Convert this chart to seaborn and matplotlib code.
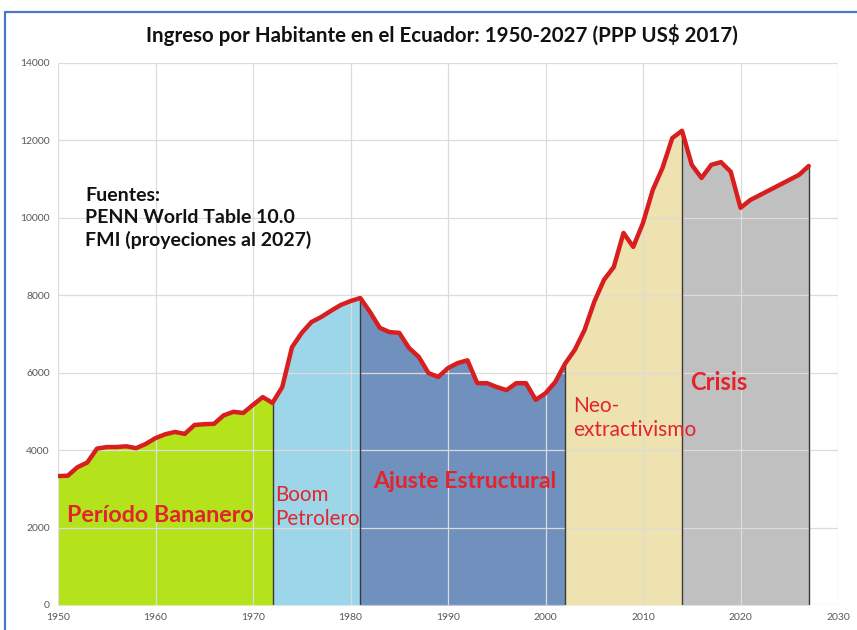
import numpy as np
import pandas as pd
import matplotlib
matplotlib.use("Agg")
import matplotlib.pyplot as plt
from matplotlib.lines import Line2D
import seaborn as sns

# Ingreso por habitante (PPP US$ 2017), 1950-2027
years = list(range(1950, 2028))
income = [
    3330, 3340, 3560, 3680, 4040, 4080, 4080, 4100, 4050, 4160,
    4310, 4410, 4470, 4420, 4650, 4670, 4680, 4900, 4990, 4960,
    5170, 5370, 5220, 5630, 6660, 7030, 7310, 7440, 7600, 7750,
    7850, 7930, 7570, 7160, 7050, 7030, 6640, 6410, 5990, 5890,
    6120, 6250, 6320, 5730, 5730, 5630, 5550, 5730, 5730, 5300,
    5470, 5760, 6230, 6590, 7100, 7830, 8400, 8730, 9610, 9250,
    9870, 10720, 11290, 12060, 12250, 11370, 11030, 11370, 11440, 11190,
    10260, 10460, 10590, 10720, 10850, 10980, 11110, 11340,
]

# Periodos historicos
period_names = ["Período Bananero", "Boom\nPetrolero", "Ajuste Estructural",
                "Neo-\nextractivismo", "Crisis"]
period_start = [1950, 1972, 1981, 2002, 2014]
period_end = [1972, 1981, 2002, 2014, 2027]
period_colors = ["#b4e31c", "#9cd6e8", "#7090be", "#eee2b0", "#c0c0c0"]

x_ticks = list(range(1950, 2031, 10))
y_ticks = list(range(0, 14001, 2000))

title = "Ingreso por Habitante en el Ecuador: 1950-2027 (PPP US$ 2017)"
sources = "Fuentes:\nPENN World Table 10.0\nFMI (proyeciones al 2027)"

df = pd.DataFrame({"year": years, "income": income})

sns.set_theme(style="white")
plt.rcParams["font.family"] = ["Lato", "DejaVu Sans"]

W, H = 857, 630
fig = plt.figure(figsize=(W / 100, H / 100), dpi=100)
fig.patch.set_facecolor("white")
ax = fig.add_axes([58 / W, 1 - 605 / H, (838 - 58) / W, (605 - 63) / H])
ax.set_facecolor("white")

# shaded areas for each period
for start, end, color in zip(period_start, period_end, period_colors):
    seg = df[(df["year"] >= start) & (df["year"] <= end)]
    ax.fill_between(seg["year"], 0, seg["income"], color=color, lw=0, zorder=1)

# dividers between periods
for end in period_end:
    val = df.loc[df["year"] == end, "income"].iloc[0]
    ax.vlines(end, 0, val, color="#3a3a3a", lw=1.0, zorder=3)

# income line
sns.lineplot(data=df, x="year", y="income", ax=ax, color="#d81e1e", lw=3.2,
             zorder=4, solid_joinstyle="round", solid_capstyle="round")

ax.set_xlim(1950, 2030)
ax.set_ylim(0, 14000)
ax.set_xticks(x_ticks)
ax.set_yticks(y_ticks)
ax.set_xticklabels([str(t) for t in x_ticks])
ax.set_yticklabels([str(t) for t in y_ticks])
ax.tick_params(axis="both", labelsize=7.5, colors="#595959", length=0, pad=6)
ax.set_xlabel("")
ax.set_ylabel("")
ax.grid(True, color="#dcdcdc", lw=0.9, zorder=2)
ax.set_axisbelow(False)
for line in ax.get_xgridlines() + ax.get_ygridlines():
    line.set_zorder(2)
for s in ax.spines.values():
    s.set_visible(False)

# period labels
red = "#e3242b"
ax.text(1950.9, 2300, period_names[0], color=red, fontsize=16.8, fontweight="bold",
        ha="left", va="center", zorder=5)
ax.text(1972.25, 2530, period_names[1], color=red, fontsize=14.8,
        ha="left", va="center", linespacing=1.3, zorder=5)
ax.text(1982.3, 3200, period_names[2], color=red, fontsize=16.6, fontweight="bold",
        ha="left", va="center", zorder=5)
ax.text(2002.8, 4830, period_names[3], color=red, fontsize=15,
        ha="left", va="center", linespacing=1.3, zorder=5)
ax.text(2014.8, 5760, period_names[4], color=red, fontsize=17, fontweight="bold",
        ha="left", va="center", zorder=5)

ax.text(1952.8, 10000, sources, color="#111111", fontsize=14, fontweight="bold",
        ha="left", va="center", linespacing=1.35, zorder=5)

fig.text(442 / W, 1 - 35 / H, title, ha="center", va="center", fontsize=14.8,
         fontweight="bold", color="#111111")

# outer frame
frame_color = "#4a78c8"
fig.add_artist(Line2D([5 / W, 5 / W], [0, 1 - 12 / H], transform=fig.transFigure,
                      color=frame_color, lw=1.6))
fig.add_artist(Line2D([5 / W, 1], [1 - 12 / H, 1 - 12 / H], transform=fig.transFigure,
                      color=frame_color, lw=1.6))

fig.savefig("out.png", dpi=100)
